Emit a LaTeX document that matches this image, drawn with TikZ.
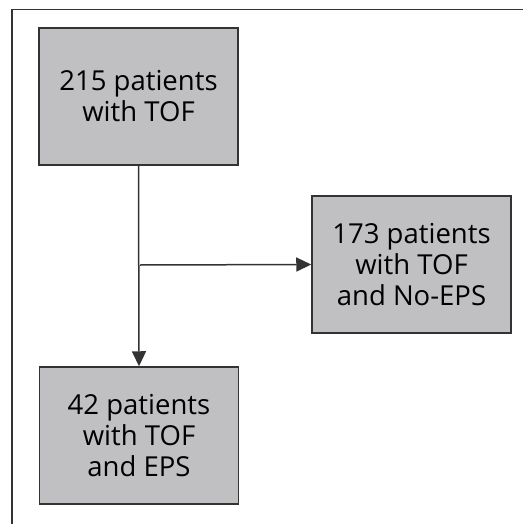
\documentclass[tikz,border=0pt]{standalone}
\usepackage{fontspec}
\setmainfont{Open Sans}
\usetikzlibrary{arrows.meta}
\definecolor{boxfill}{RGB}{192,192,194}
\definecolor{edge}{RGB}{51,51,51}
\tikzset{
  flowbox/.style={draw=edge, line width=1.5pt, fill=boxfill, minimum width=199pt, minimum height=137pt, inner sep=0pt, align=center, font=\fontsize{27.5}{31}\selectfont, text=black},
  conn/.style={draw=edge, line width=1.5pt, -{Triangle[length=15pt,width=14pt]}}
}
\begin{document}
\begin{tikzpicture}[x=1pt,y=1pt]
\useasboundingbox (0,0) rectangle (523,-524);
\coordinate (fb) at (12,-524);
\coordinate (fc) at (12,-9.5);
\coordinate (fr) at (523,-9.5);
\draw[draw=edge, line width=1.5pt] (fb) -- (fc) -- (fr);
\node[flowbox] (top) at (138.5,-96.5) {215 patients\\with TOF};
\node[flowbox] (right) at (411.5,-264.5) {173 patients\\with TOF\\and No-EPS};
\node[flowbox] (bottom) at (139,-435.5) {42 patients\\with TOF\\and EPS};
\coordinate (split) at (140,-265);
\draw[conn] (top.south) -- (bottom.north);
\draw[conn] (split) -- (right.west);
\end{tikzpicture}
\end{document}
